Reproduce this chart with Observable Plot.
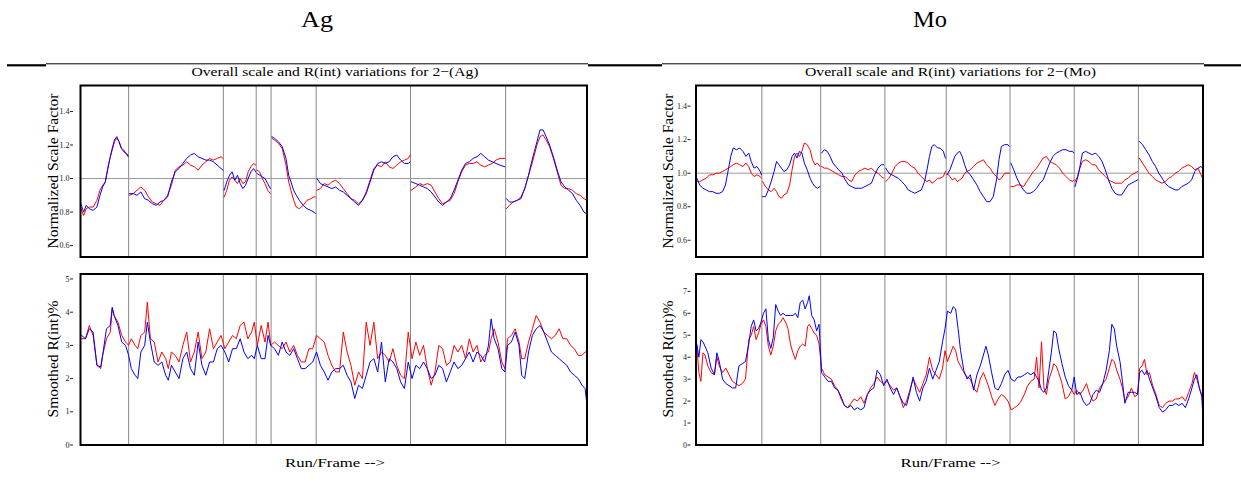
<!DOCTYPE html>
<html><head><meta charset="utf-8">
<script src="https://cdn.jsdelivr.net/npm/d3@7"></script>
<script src="https://cdn.jsdelivr.net/npm/@observablehq/plot@0.6"></script>
<style>
html,body{margin:0;padding:0;background:#fff;}
#root{position:relative;width:1241px;height:493px;overflow:hidden;font-family:"Liberation Serif",serif;}
</style></head><body><div id="root"></div>
<script>
// ---------- Panel titles / labels ----------
const panelTitles = ["Ag", "Mo"];
const subTitles = ["Overall scale and R(int) variations for 2\u2212(Ag)", "Overall scale and R(int) variations for 2\u2212(Mo)"];
const yLabelTop = "Normalized Scale Factor";
const yLabelBottom = "Smoothed R(int)%";
const xLabel = "Run/Frame -->";
const scaleTicks = [0.6, 0.8, 1.0, 1.2, 1.4];
const agRTicks = [0, 1, 2, 3, 4, 5];
const moRTicks = [0, 1, 2, 3, 4, 5, 6, 7];

// ---------- Ag : run boundaries (frame index) ----------
const agFrames = [207, 1533];
const agRuns = [333, 581, 667, 706, 824, 1071, 1320];

// Ag scale factor, one list per run
const agScaleX = [
  [208,215,222,230,240,250,258,265,272,278,284,290,296,302,308,314,320,326,332],
  [335,345,355,365,375,385,395,405,415,425,435,445,455,465,475,485,495,505,515,525,535,545,555,565,575,580],
  [583,590,597,604,611,618,625,632,639,646,653,660,666],
  [669,676,683,690,697,704],
  [708,715,725,735,745,752,758,765,772,780,790,800,810,818,822],
  [826,835,845,855,865,875,885,895,905,915,925,935,945,955,965,975,985,995,1005,1015,1025,1035,1045,1055,1065,1070],
  [1073,1085,1095,1105,1115,1125,1135,1145,1155,1165,1175,1185,1195,1205,1215,1225,1235,1245,1255,1265,1275,1285,1295,1305,1318],
  [1322,1330,1340,1350,1360,1370,1380,1388,1395,1402,1410,1418,1426,1435,1445,1455,1465,1475,1485,1495,1505,1515,1525,1532]
];
const agScaleBlue = [
  [0.85,0.80,0.84,0.82,0.81,0.83,0.90,0.95,0.98,1.05,1.12,1.18,1.23,1.25,1.22,1.18,1.17,1.15,1.13],
  [0.91,0.91,0.90,0.92,0.88,0.87,0.85,0.84,0.86,0.87,0.89,0.98,1.04,1.06,1.09,1.12,1.14,1.15,1.13,1.12,1.11,1.11,1.10,1.08,1.06,1.05],
  [0.93,0.98,1.02,1.04,0.99,1.02,0.97,0.94,0.96,1.00,1.04,1.06,1.04],
  [1.03,1.02,1.01,1.00,0.97,0.94],
  [1.25,1.24,1.22,1.19,1.12,1.02,0.98,0.93,0.90,0.87,0.84,0.82,0.81,0.80,0.79],
  [1.00,0.97,0.96,0.95,0.94,0.95,0.93,0.92,0.90,0.88,0.86,0.84,0.87,0.91,0.98,1.05,1.09,1.10,1.09,1.10,1.13,1.14,1.11,1.09,1.09,1.10],
  [0.98,0.97,0.96,0.95,0.94,0.92,0.89,0.86,0.84,0.86,0.88,0.93,0.99,1.05,1.09,1.10,1.12,1.13,1.15,1.13,1.11,1.10,1.09,1.08,1.07],
  [0.88,0.86,0.86,0.87,0.88,0.94,1.02,1.10,1.16,1.22,1.29,1.29,1.25,1.20,1.13,1.05,0.98,0.95,0.93,0.91,0.87,0.84,0.80,0.79]
];
const agScaleRed = [
  [0.82,0.78,0.82,0.83,0.83,0.87,0.93,0.96,0.98,1.06,1.12,1.17,1.22,1.24,1.22,1.18,1.16,1.15,1.14],
  [0.90,0.91,0.93,0.95,0.93,0.89,0.86,0.85,0.84,0.87,0.90,0.96,1.05,1.07,1.08,1.10,1.08,1.07,1.05,1.08,1.10,1.12,1.11,1.12,1.13,1.12],
  [0.89,0.93,0.99,1.01,0.99,0.97,1.00,0.97,0.98,1.04,1.07,1.09,1.08],
  [1.05,1.04,1.00,0.97,0.93,0.91],
  [1.24,1.23,1.21,1.18,1.08,0.98,0.93,0.87,0.83,0.82,0.84,0.87,0.88,0.89,0.89],
  [0.93,0.94,0.97,0.96,0.98,0.99,0.97,0.94,0.91,0.88,0.87,0.85,0.87,0.92,0.99,1.06,1.08,1.07,1.10,1.07,1.06,1.08,1.10,1.11,1.12,1.14],
  [0.93,0.95,0.97,0.96,0.97,0.96,0.92,0.88,0.85,0.86,0.87,0.91,0.98,1.04,1.08,1.09,1.09,1.10,1.08,1.07,1.08,1.09,1.11,1.12,1.12],
  [0.82,0.84,0.86,0.87,0.89,0.94,1.02,1.08,1.14,1.20,1.25,1.26,1.23,1.19,1.12,1.04,0.96,0.94,0.94,0.93,0.91,0.90,0.88,0.87]
];

// Ag smoothed R(int)%
const agRX = [210,220,230,240,250,260,265,275,285,290, 295,305,315,325,333,340,350,357,365,375,
  382,390,400,410,420,430,437,445,455,465, 475,485,495,505,515,525,535,545,555,565,
  575,585,595,605,615,625,635,645,655,662, 670,680,690,698,705,715,725,735,745,755,
  765,775,785,795,805,815,825,835,845,855, 865,875,885,895,905,915,925,935,945,955,
  965,975,985,995,1005,1015,1025,1035,1045,1055, 1065,1075,1085,1095,1105,1115,1125,1135,1145,1155,
  1165,1175,1185,1195,1205,1215,1225,1235,1245,1255, 1265,1275,1282,1290,1300,1310,1318,1325,1335,1345,
  1355,1362,1370,1380,1390,1400,1410,1420,1430,1440, 1450,1460,1470,1480,1490,1500,1510,1520,1528,1532];
const agRRed = [3.2,3.2,3.6,3.3,2.4,2.3,2.7,3.2,3.4,4.1, 3.9,3.7,3.3,3.1,3.0,3.2,3.0,2.9,3.3,3.4,
  4.3,3.2,3.1,2.5,2.8,2.6,2.3,2.8,2.7,2.5, 3.0,3.4,2.5,2.8,3.4,2.6,2.8,3.5,2.9,3.1,
  3.3,2.9,3.1,3.3,3.2,3.6,3.7,3.2,3.4,3.7, 3.0,3.6,3.1,3.7,3.0,3.1,3.0,2.9,3.1,2.8,
  3.0,2.7,2.5,2.5,2.9,2.9,3.3,3.2,3.1,2.7, 2.4,2.2,2.2,3.4,2.8,2.4,1.8,2.2,2.0,3.7,
  3.0,3.7,2.6,2.8,2.7,2.5,2.9,2.4,2.1,2.0, 3.4,2.6,3.1,2.7,3.0,2.3,1.8,2.2,3.0,2.9,
  2.4,2.5,3.0,2.8,3.0,2.6,3.2,2.8,3.0,2.5, 2.7,2.8,3.2,3.5,3.1,2.5,2.3,3.2,3.3,3.5,
  3.1,2.6,2.6,3.1,3.5,3.9,3.7,3.4,3.3,3.2, 3.3,3.5,3.2,3.2,3.0,2.9,2.7,2.7,2.8,2.8];
const agRBlue = [3.3,3.2,3.5,3.4,2.4,2.35,2.7,3.5,3.6,4.15, 3.9,3.6,3.1,3.0,2.7,2.3,2.1,2.0,2.8,3.0,
  3.7,3.1,2.5,2.4,2.5,2.1,1.95,2.4,2.2,2.0, 2.6,2.8,2.3,2.1,3.1,2.4,2.1,2.5,2.5,2.9,
  3.0,2.8,2.5,2.9,2.9,3.2,2.8,2.6,2.7,2.6, 3.0,2.6,2.6,3.3,3.0,2.9,2.7,3.1,2.8,2.7,
  2.9,2.6,2.3,2.3,2.4,2.5,2.8,2.4,2.2,1.95, 2.2,2.3,2.3,2.4,2.1,1.9,1.4,1.8,1.7,2.1,
  2.5,2.6,2.2,3.1,1.9,2.6,2.5,2.3,1.9,1.7, 2.5,2.0,2.4,2.3,2.5,2.3,2.0,2.1,2.4,2.3,
  1.9,2.2,2.5,2.3,2.4,2.6,2.8,2.5,2.8,2.7, 2.5,3.0,3.8,3.2,2.9,2.3,2.2,3.0,3.1,3.4,
  3.0,2.1,2.0,2.8,3.3,3.5,3.6,3.4,3.1,2.8, 2.7,2.6,2.5,2.4,2.2,2.1,2.0,1.8,1.7,1.3];

// ---------- Mo ----------
const moFrames = [233, 1473];
const moRuns = [394, 538, 695, 845, 1001, 1158, 1315];

const moScaleX = [
  [235,242,250,258,266,274,282,290,298,305,312,318,324,332,340,348,355,362,368,375,382,390,393],
  [396,403,410,417,424,430,436,442,448,455,462,468,474,480,486,492,498,505,512,518,524,530,536],
  [540,547,554,561,568,575,582,590,598,606,614,622,630,638,646,654,662,670,678,686,692],
  [697,705,712,720,728,736,744,752,760,768,776,784,792,798,804,810,816,824,830,838,843],
  [847,854,860,866,872,878,884,890,896,904,912,920,928,936,944,952,960,968,974,980,988,996,999],
  [1003,1010,1018,1026,1034,1042,1050,1058,1066,1074,1082,1090,1098,1106,1114,1122,1130,1138,1146,1154,1157],
  [1160,1166,1172,1178,1186,1194,1202,1210,1218,1226,1234,1242,1250,1258,1266,1274,1282,1290,1298,1306,1313],
  [1317,1325,1333,1341,1349,1357,1365,1373,1381,1389,1397,1405,1413,1421,1429,1437,1445,1453,1461,1468,1472]
];
const moScaleBlue = [
  [0.97,0.93,0.91,0.90,0.89,0.89,0.88,0.88,0.89,0.93,1.02,1.10,1.15,1.14,1.15,1.13,1.10,1.12,1.07,1.03,1.04,1.01,0.99],
  [0.86,0.86,0.90,0.95,1.01,1.07,1.05,1.03,1.01,1.02,1.05,1.10,1.12,1.09,1.13,1.12,1.06,1.02,0.97,0.94,0.92,0.91,0.92],
  [1.12,1.14,1.13,1.10,1.06,1.04,1.02,1.00,0.96,0.93,0.92,0.91,0.91,0.91,0.92,0.93,0.94,0.99,1.03,1.05,1.05],
  [1.03,1.00,0.99,0.98,0.97,0.95,0.93,0.90,0.89,0.88,0.89,0.90,0.95,1.02,1.10,1.16,1.17,1.15,1.15,1.13,1.09],
  [0.99,1.02,1.06,1.10,1.12,1.13,1.10,1.05,1.01,0.99,0.96,0.93,0.89,0.86,0.83,0.83,0.86,0.96,1.08,1.16,1.17,1.17,1.16],
  [1.06,1.02,0.97,0.93,0.90,0.88,0.88,0.89,0.91,0.94,0.96,1.01,1.06,1.10,1.12,1.13,1.14,1.14,1.13,1.13,1.12],
  [0.92,0.97,1.04,1.12,1.13,1.12,1.11,1.12,1.10,1.07,1.02,0.96,0.91,0.88,0.87,0.87,0.90,0.93,0.94,0.95,0.96],
  [1.19,1.17,1.14,1.11,1.07,1.04,1.00,0.97,0.94,0.92,0.91,0.90,0.90,0.92,0.93,0.94,0.96,1.01,1.03,1.04,1.03]
];
const moScaleRed = [
  [0.95,0.95,0.96,0.97,0.99,0.99,1.00,1.00,1.01,1.02,1.03,1.04,1.05,1.06,1.05,1.04,1.06,1.04,1.00,0.98,0.99,0.98,0.97],
  [0.95,0.92,0.90,0.89,0.91,0.89,0.86,0.85,0.87,0.88,0.93,1.02,1.10,1.12,1.10,1.13,1.18,1.17,1.14,1.08,1.05,1.06,1.04],
  [1.04,1.03,1.03,1.02,1.01,1.00,0.99,0.98,0.98,0.96,0.95,0.99,1.01,1.02,1.03,1.02,1.03,1.01,1.00,0.98,0.97],
  [0.95,0.97,1.00,1.04,1.06,1.07,1.07,1.06,1.04,1.03,1.00,0.98,0.96,0.95,0.96,0.94,0.95,0.97,0.97,0.98,1.01],
  [1.00,0.98,0.96,0.97,0.95,0.96,0.97,1.00,1.01,1.02,1.04,1.06,1.07,1.08,1.05,1.03,1.00,0.98,0.96,0.97,1.00,1.00,1.00],
  [0.92,0.92,0.93,0.93,0.92,0.95,0.98,1.01,1.03,1.06,1.09,1.10,1.07,1.06,1.05,1.03,1.00,0.98,0.96,0.95,0.96],
  [0.95,0.98,1.03,1.07,1.08,1.07,1.05,1.05,1.02,1.00,0.98,0.96,0.95,0.94,0.94,0.94,0.96,0.97,0.99,1.00,1.01],
  [1.09,1.06,1.03,1.00,0.98,0.96,0.95,0.94,0.95,0.97,0.98,1.00,1.01,1.03,1.04,1.05,1.04,1.02,1.03,0.99,0.97]
];

const moRX = [235,240,245,250,255,262,270,278,284,290, 298,306,314,322,330,338,346,354,362,368,
  374,380,386,392,398,404,410,416,422,428, 434,440,446,452,458,464,470,476,482,488,
  494,500,506,510,516,522,528,534,540,548, 556,564,572,580,588,596,604,612,620,628,
  636,644,652,660,668,676,684,692,700,708, 716,724,732,740,748,756,764,772,780,788,
  796,804,812,820,828,836,842,848,856,862, 868,874,880,888,896,904,912,920,928,936,
  942,948,956,964,972,980,988,996,1004,1012, 1020,1028,1036,1044,1052,1060,1066,1072,1078,1084,
  1090,1096,1102,1108,1114,1120,1128,1136,1144,1152, 1158,1164,1172,1180,1188,1196,1204,1212,1220,1228,
  1236,1244,1250,1256,1262,1270,1276,1282,1290,1298, 1306,1313,1318,1324,1330,1336,1342,1350,1358,1366,
  1374,1382,1390,1398,1406,1414,1422,1430,1438,1446, 1452,1458,1464,1470,1472];
const moRRed = [4.5,3.3,2.9,4.2,4.1,3.6,3.3,3.2,4.0,3.6, 3.3,3.5,3.2,2.9,2.8,2.7,2.8,3.0,4.8,5.0,
  5.4,4.8,5.1,5.5,5.7,5.4,4.5,4.1,4.5,5.2, 5.5,5.6,5.8,5.6,5.3,4.6,4.2,3.9,4.3,4.5,
  4.6,4.5,5.4,5.5,5.3,5.1,5.0,4.6,3.5,3.2, 3.1,3.0,2.7,2.5,2.1,1.8,1.7,1.9,2.1,2.0,
  2.2,1.9,2.3,2.6,2.8,3.1,2.9,2.8,2.9,2.7, 2.5,2.6,2.2,1.7,2.0,2.5,3.0,2.7,2.4,2.8,
  3.2,4.0,3.4,3.2,3.0,3.5,4.3,3.8,4.2,4.5, 4.3,3.8,3.6,3.3,3.1,3.0,2.6,2.4,3.0,3.3,
  3.0,2.7,2.2,1.8,2.1,2.3,2.2,2.0,1.6,1.7, 1.8,2.0,2.3,2.7,2.9,3.0,4.0,2.6,4.7,2.6,
  2.3,3.0,3.3,3.7,3.6,3.3,2.8,2.1,2.2,2.5, 2.3,2.5,2.3,2.5,2.8,2.3,2.0,2.1,2.6,2.8,
  3.0,3.5,3.9,3.8,3.4,3.0,2.6,2.0,2.2,2.6, 2.2,2.3,3.5,3.6,3.9,3.2,3.3,2.7,2.3,1.8,
  1.7,1.9,2.0,2.0,2.1,2.1,2.2,2.0,2.4,2.8, 3.3,3.0,2.6,2.3,2.0];
const moRBlue = [4.6,4.0,4.8,4.7,4.5,4.2,3.5,3.2,4.2,3.8, 3.0,2.8,2.7,2.6,2.6,3.6,3.7,3.8,4.6,5.4,
  5.7,5.2,5.3,5.6,6.0,6.2,4.8,4.4,4.9,6.4, 6.1,5.9,6.0,5.9,5.9,5.9,5.9,6.0,5.8,6.5,
  6.6,6.2,6.5,6.8,5.9,5.7,5.2,5.5,3.3,3.1, 2.9,2.9,2.6,2.5,2.2,1.8,1.7,1.8,1.6,1.7,
  1.6,1.7,2.3,2.5,2.6,3.4,3.2,2.7,3.0,2.6, 2.3,2.6,2.2,1.9,1.8,2.4,3.1,2.4,2.0,2.6,
  2.9,3.5,3.0,3.4,3.8,4.7,5.3,6.1,6.0,6.3, 6.2,5.3,4.3,3.4,3.0,3.2,2.5,3.2,3.6,4.1,
  4.5,4.1,3.3,2.6,2.5,2.8,3.2,3.4,3.0,2.9, 3.1,3.1,3.2,3.3,3.2,3.3,3.1,2.9,2.5,2.4,
  2.6,3.4,4.2,5.2,5.1,4.4,3.7,3.1,2.7,2.5, 3.1,2.3,2.4,2.0,1.8,1.9,2.3,2.5,2.4,2.8,
  3.4,4.3,5.5,5.3,4.5,3.8,2.9,1.9,2.4,2.4, 2.4,2.3,3.3,3.4,3.2,3.4,3.0,2.6,2.2,1.7,
  1.5,1.6,1.8,1.8,1.9,1.8,1.9,1.7,2.1,2.6, 3.0,3.2,2.6,2.2,1.5];

// ---------- build tables ----------
function segRows(xs, reds, blues) {
  const out = [];
  xs.forEach((seg, i) => seg.forEach((x, j) => out.push({run: i, x, red: reds[i][j], blue: blues[i][j]})));
  return out;
}
function flatRows(xs, reds, blues) {
  return xs.map((x, j) => ({x, red: reds[j], blue: blues[j]}));
}

const root = document.getElementById("root");
const FONT = "'Liberation Serif', 'Times New Roman', serif";

function makePlot(o) {
  const marks = [
    Plot.ruleX(o.runs, {stroke: "#8a8a8a", strokeWidth: 1}),
    o.ref != null ? Plot.ruleY([o.ref], {stroke: "#999999", strokeWidth: 1}) : null,
    Plot.line(o.rows, {x: "x", y: "red", z: o.z, stroke: "#ff0000", strokeWidth: 1, clip: true}),
    Plot.line(o.rows, {x: "x", y: "blue", z: o.z, stroke: "#0000ff", strokeWidth: 1, clip: true}),
    Plot.axisY({ticks: o.ticks, tickFormat: o.fmt, tickSize: 3, tickPadding: 1, dx: o.dx, fontSize: 8, label: null, color: "#222"}),
    Plot.frame({stroke: "#000", strokeWidth: 2})
  ];
  const svg = Plot.plot({
    width: o.width, height: o.height,
    marginLeft: o.ml, marginRight: o.mr, marginTop: o.mt, marginBottom: o.mb,
    x: {domain: o.xDomain, axis: null},
    y: {domain: o.yDomain},
    style: {fontFamily: FONT, background: "transparent", color: "#000", overflow: "visible"},
    marks
  });
  svg.style.position = "absolute";
  svg.style.left = o.left + "px";
  svg.style.top = o.top + "px";
  svg.style.maxWidth = "none";
  root.appendChild(svg);
}

const fmt1 = d3.format(".1f");
const fmt0 = d3.format("d");
const topBox = {top: 78, height: 183.5, mt: 7, mb: 5};
const botBox = {top: 266, height: 183.5, mt: 7.5, mb: 5};
const agBox = {left: 0, width: 600, ml: 80, mr: 13.5, dx: -7};
const moBox = {left: 620, width: 600, ml: 75.5, mr: 17.5, dx: -5};

makePlot({...agBox, ...topBox, xDomain: agFrames, yDomain: [0.532, 1.555], ticks: scaleTicks, fmt: fmt1,
  runs: agRuns, ref: 1, rows: segRows(agScaleX, agScaleRed, agScaleBlue), z: "run"});
makePlot({...agBox, ...botBox, xDomain: agFrames, yDomain: [0, 5.15], ticks: agRTicks, fmt: fmt0,
  runs: agRuns, ref: null, rows: flatRows(agRX, agRRed, agRBlue), z: null});
makePlot({...moBox, ...topBox, xDomain: moFrames, yDomain: [0.50, 1.523], ticks: scaleTicks, fmt: fmt1,
  runs: moRuns, ref: 1, rows: segRows(moScaleX, moScaleRed, moScaleBlue), z: "run"});
makePlot({...moBox, ...botBox, xDomain: moFrames, yDomain: [0, 7.79], ticks: moRTicks, fmt: fmt0,
  runs: moRuns, ref: null, rows: flatRows(moRX, moRRed, moRBlue), z: null});

// ---------- overlay: rules and text ----------
const ov = d3.create("svg").attr("width", 1241).attr("height", 493)
  .style("position", "absolute").style("left", "0px").style("top", "0px")
  .style("font-family", FONT);
const thick = [[7, 46], [588, 662], [1204, 1241]];
const thin = [[46, 588], [662, 1204]];
thin.forEach(([a, b]) => ov.append("rect").attr("x", a).attr("y", 63.3).attr("width", b - a).attr("height", 1).attr("fill", "#000"));
thick.forEach(([a, b]) => ov.append("rect").attr("x", a).attr("y", 64.2).attr("width", b - a).attr("height", 2.2).attr("fill", "#000"));

function txt(s, x, y, size, len, rot) {
  const t = ov.append("text").text(s).attr("text-anchor", "middle").attr("font-size", size).attr("fill", "#000");
  if (len) t.attr("textLength", len).attr("lengthAdjust", "spacingAndGlyphs");
  if (rot) t.attr("transform", `translate(${x},${y}) rotate(-90)`);
  else t.attr("x", x).attr("y", y);
  return t;
}
const cx = [335, 950.5];
const titleX = [317, 930];
const ylabX = [57.5, 673];
[0, 1].forEach(i => {
  txt(panelTitles[i], titleX[i], 27, 24, i === 0 ? 32 : 34);
  txt(subTitles[i], cx[i], 76, 13.5, i === 0 ? 287 : 291);
  txt(yLabelTop, ylabX[i], 171, 15.5, 155, true);
  txt(yLabelBottom, ylabX[i], 359, 15.5, 117, true);
  txt(xLabel, cx[i], 466.5, 13.5, 100);
});
root.appendChild(ov.node());
</script>
</body></html>
